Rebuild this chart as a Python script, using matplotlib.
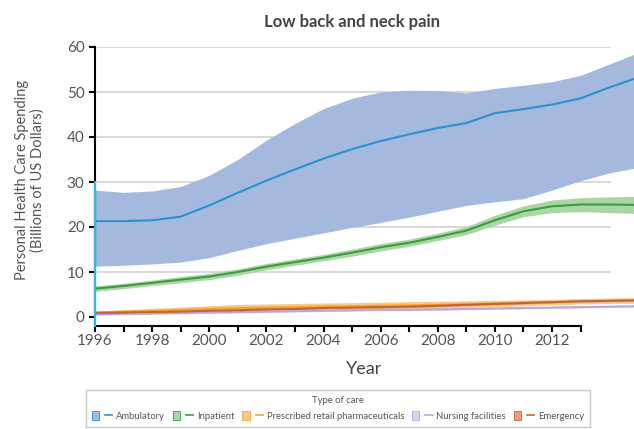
import matplotlib.pyplot as plt
import numpy as np
from matplotlib.patches import Patch
from matplotlib.lines import Line2D
from matplotlib.legend_handler import HandlerTuple

plt.rcParams['font.family'] = ['Lato', 'DejaVu Sans']

years = np.arange(1996, 2016)

# spending in billions of US dollars: mean, lower, upper
amb = [21.3, 21.3, 21.5, 22.3, 24.8, 27.6, 30.3, 32.8, 35.2, 37.3,
       39.1, 40.6, 42.0, 43.1, 45.3, 46.2, 47.2, 48.6, 51.0, 53.2]
amb_lo = [11.3, 11.5, 11.8, 12.2, 13.2, 14.8, 16.3, 17.5, 18.7, 19.9,
          21.0, 22.2, 23.5, 24.8, 25.6, 26.3, 28.2, 30.3, 32.0, 33.2]
amb_hi = [28.2, 27.7, 28.0, 29.0, 31.5, 35.0, 39.3, 43.0, 46.3, 48.6,
          50.0, 50.4, 50.3, 49.8, 50.8, 51.5, 52.3, 53.7, 56.2, 58.7]

inp = [6.3, 6.9, 7.6, 8.3, 9.0, 10.0, 11.2, 12.2, 13.2, 14.3,
       15.5, 16.5, 17.8, 19.2, 21.5, 23.5, 24.6, 25.0, 25.0, 24.9]
inp_lo = [5.7, 6.3, 7.0, 7.6, 8.3, 9.3, 10.5, 11.5, 12.5, 13.5,
          14.7, 15.7, 17.0, 18.3, 20.4, 22.3, 23.2, 23.4, 23.2, 23.0]
inp_hi = [6.9, 7.5, 8.2, 9.0, 9.7, 10.7, 11.9, 12.9, 13.9, 15.1,
          16.3, 17.3, 18.6, 20.1, 22.6, 24.7, 26.0, 26.5, 26.7, 26.8]

pharm = [1.0, 1.2, 1.4, 1.6, 1.8, 2.0, 2.1, 2.2, 2.3, 2.4,
         2.5, 2.6, 2.7, 2.9, 3.0, 3.2, 3.3, 3.5, 3.6, 3.7]
pharm_lo = [0.7, 0.8, 0.9, 1.0, 1.1, 1.2, 1.3, 1.4, 1.5, 1.6,
            1.7, 1.8, 1.9, 2.1, 2.3, 2.5, 2.7, 2.9, 3.0, 3.1]
pharm_hi = [1.3, 1.6, 1.9, 2.2, 2.5, 2.8, 2.9, 3.0, 3.1, 3.2,
            3.3, 3.4, 3.5, 3.6, 3.7, 3.8, 3.9, 4.1, 4.2, 4.3]

nursing = [0.6, 0.7, 0.8, 0.9, 1.0, 1.1, 1.2, 1.3, 1.4, 1.5,
           1.6, 1.6, 1.7, 1.8, 1.9, 2.0, 2.1, 2.2, 2.3, 2.4]
nursing_lo = [0.4, 0.5, 0.6, 0.7, 0.8, 0.9, 1.0, 1.1, 1.2, 1.3,
              1.4, 1.4, 1.5, 1.6, 1.7, 1.8, 1.9, 2.0, 2.1, 2.2]
nursing_hi = [0.8, 0.9, 1.0, 1.1, 1.2, 1.3, 1.4, 1.5, 1.6, 1.7,
              1.8, 1.8, 1.9, 2.0, 2.1, 2.2, 2.3, 2.4, 2.5, 2.6]

emerg = [0.9, 1.0, 1.1, 1.2, 1.4, 1.5, 1.7, 1.8, 2.0, 2.1,
         2.2, 2.3, 2.5, 2.7, 2.9, 3.1, 3.3, 3.5, 3.6, 3.7]
emerg_lo = [0.7, 0.8, 0.9, 1.0, 1.2, 1.3, 1.5, 1.6, 1.8, 1.9,
            2.0, 2.1, 2.3, 2.5, 2.7, 2.9, 3.1, 3.3, 3.4, 3.5]
emerg_hi = [1.1, 1.2, 1.3, 1.4, 1.6, 1.7, 1.9, 2.0, 2.2, 2.3,
            2.4, 2.5, 2.7, 2.9, 3.1, 3.3, 3.5, 3.7, 3.8, 3.9]

labels = ['Ambulatory', 'Inpatient', 'Prescribed retail pharmaceuticals',
          'Nursing facilities', 'Emergency']
band_colors = ['#a4b9dd', '#a9d6a2', '#f8c98a', '#ddd0ea', '#e3a27e']
line_colors = ['#2b92d2', '#3c9a40', '#f2a53a', '#bca6da', '#c5662c']
series = [(amb, amb_lo, amb_hi), (inp, inp_lo, inp_hi),
          (pharm, pharm_lo, pharm_hi), (nursing, nursing_lo, nursing_hi),
          (emerg, emerg_lo, emerg_hi)]

fig = plt.figure(figsize=(6.34, 4.29), dpi=100)
ax = fig.add_axes([95 / 634, 1 - 326 / 429, 1 - 95 / 634, 279 / 429])

# light horizontal guides, stopping short of the right edge
ax.hlines(np.arange(10, 61, 10), 1996, 2014.07, color='#d6d6d6', lw=1.3, zorder=0)

draw_order = [0, 1, 3, 2, 4]
for i in draw_order:
    m, lo, hi = series[i]
    ax.fill_between(years, lo, hi, color=band_colors[i], lw=0, zorder=1 + i * 0.1)
    ax.plot(years, m, color=line_colors[i], lw=1.5, zorder=2 + i * 0.1)

ax.set_xlim(1996, 2014.87)
ax.set_ylim(-2, 60)

for s in ['top', 'right']:
    ax.spines[s].set_visible(False)
ax.spines['left'].set_bounds(-2, 60)
ax.spines['bottom'].set_bounds(1996, 2013)
ax.spines['left'].set_linewidth(1.5)
ax.spines['bottom'].set_linewidth(1.5)
# cyan edge along the axis where the ambulatory band starts
ax.axvline(1996, ymin=0, ymax=32 / 62, color='#35b4e6', lw=1.6, zorder=3, clip_on=False)

ax.set_yticks(np.arange(0, 61, 10))
ax.set_xticks(np.arange(1996, 2014), minor=True)
ax.set_xticks(np.arange(1996, 2013, 2))
ax.tick_params(axis='both', which='both', direction='out', length=4, width=1.5,
               color='black', labelcolor='#555555', labelsize=11)
ax.tick_params(axis='x', which='major', pad=2)

ax.set_xlabel('Year', fontsize=13, color='#444444', labelpad=9)
fig.text(30 / 634, 1 - 180 / 429, 'Personal Health Care Spending\n(Billions of US Dollars)',
         rotation=90, ha='center', va='center', fontsize=10.5, color='#555555',
         linespacing=1.15)
fig.text(352 / 634, 1 - 22 / 429, 'Low back and neck pain', ha='center', va='center',
         fontsize=12, fontweight='bold', color='#444444')

handles = [(Patch(facecolor=band_colors[i], edgecolor=line_colors[i], lw=0.6),
            Line2D([], [], color=line_colors[i], lw=1.2)) for i in range(5)]
leg = fig.legend(handles, labels, handler_map={tuple: HandlerTuple(ndivide=None)},
                 ncol=5, loc='upper left', mode='expand',
                 bbox_to_anchor=(86 / 634, -0.05, 504 / 634, 1 - 390 / 429 + 0.05),
                 title='Type of care', title_fontsize=6.8, fontsize=6.8,
                 frameon=True, fancybox=False, edgecolor='#bbbbbb',
                 handlelength=2.2, handleheight=1.1, handletextpad=0.4,
                 borderaxespad=0, borderpad=0.6, labelspacing=0.7)
leg.get_frame().set_linewidth(1.0)
for t in leg.get_texts():
    t.set_color('#555555')
leg.get_title().set_color('#555555')

fig.savefig('out.png', dpi=100)
